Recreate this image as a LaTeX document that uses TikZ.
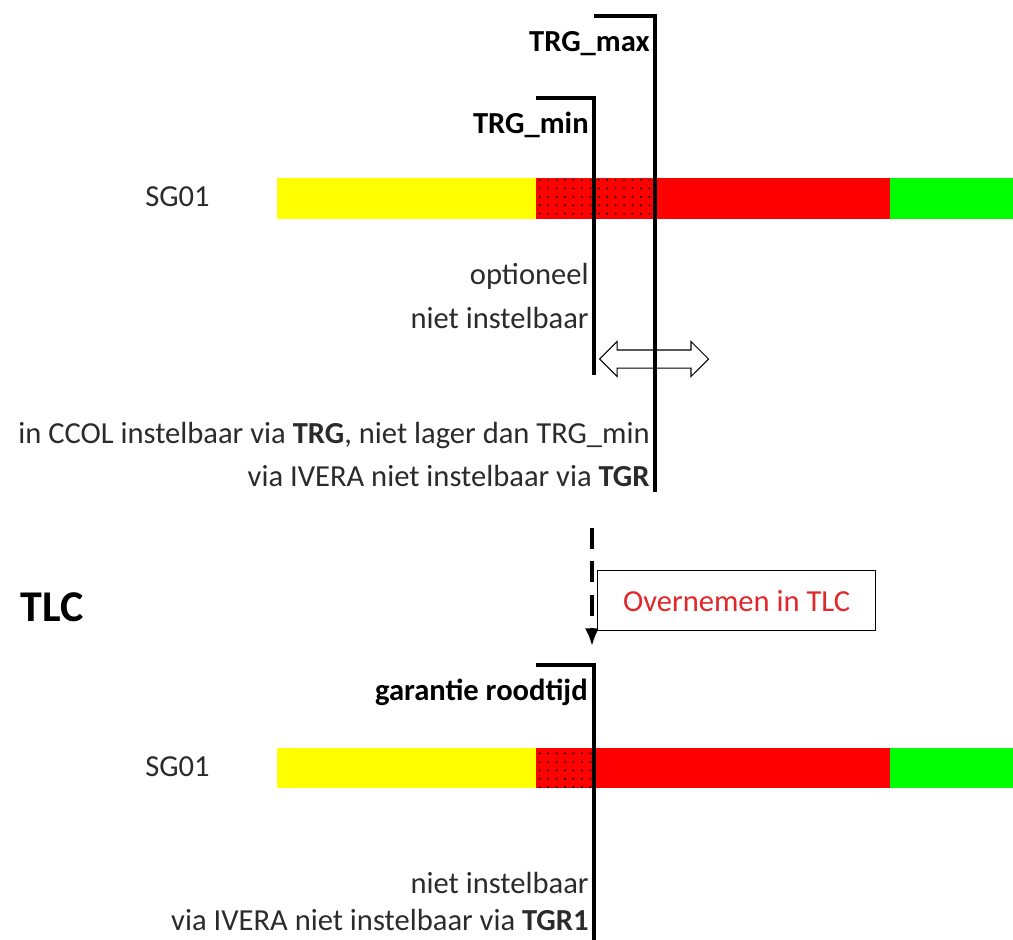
\documentclass[tikz,border=0pt]{standalone}
\usepackage{fontspec}
\setmainfont{Carlito}
\usetikzlibrary{patterns.meta,shapes.arrows,arrows.meta}
\definecolor{sigyellow}{HTML}{FFFF00}
\definecolor{sigred}{HTML}{FF0000}
\definecolor{siggreen}{HTML}{00FF00}
\definecolor{txtgray}{HTML}{2B2B2B}
\definecolor{notered}{HTML}{E2262A}
\tikzset{
	txt/.style     = {anchor=mid east, inner sep=0pt, text=txtgray, font=\fontsize{17.4}{20}\selectfont},
	head/.style    = {anchor=mid east, inner sep=0pt, text=black, font=\fontsize{17.4}{20}\selectfont\bfseries},
	marker/.style  = {line width=2.3pt},
	dotted red/.style = {fill=sigred, postaction={pattern={Dots[distance=4.8pt, radius=0.6pt]}, pattern color=black}},
	note/.style    = {draw, line width=0.8pt, fill=white, rectangle, minimum width=5.56cm, minimum height=1.2cm, text=notered, font=\fontsize{17.4}{20}\selectfont},
	rangearrow/.style = {draw, line width=0.6pt, fill=white, double arrow, double arrow head extend=0.17cm, minimum height=2.18cm, inner sep=0.17cm},
}

\begin{document}
\begin{tikzpicture}[x=0.02cm, y=-0.02cm, >={Latex[length=10pt, width=8pt]}]
		\useasboundingbox (0,0) rectangle (1013,939);

		% Draw the signal bar of the controller (CCOL / IVERA)
		\fill[sigyellow] (277,178) rectangle (536,219);
		\path[dotted red] (536,178) rectangle (652,219);
		\fill[sigred]    (652,178) rectangle (890,219);
		\fill[siggreen]  (890,178) rectangle (1013,219);
		\node[txt, anchor=mid west] (sg1) at (145,202) {SG01};

		% Draw the markers TRG_min and TRG_max
		\node[rangearrow] (range) at (654,359) {};
		\coordinate (minstart) at (536,98);
		\coordinate (minend)   at (594,375);
		\coordinate (maxstart) at (594,16);
		\coordinate (maxend)   at (655,492);
		\draw[marker] (minstart) -| (minend);
		\draw[marker] (maxstart) -| (maxend);
		\node[head] (trgmax) at (650,47)  {TRG\_max};
		\node[head] (trgmin) at (589,129) {TRG\_min};

		\node[txt] (optional) at (589,280) {optioneel};
		\node[txt] (fixed)    at (589,324) {niet instelbaar};

		\node[txt] (ccol)  at (650,439) {in CCOL instelbaar via \textbf{TRG}, niet lager dan TRG\_min};
		\node[txt] (ivera) at (650,482) {via IVERA niet instelbaar via \textbf{TGR}};

		% Take over in the TLC
		\coordinate (takefrom) at (592,528);
		\coordinate (taketo)   at (592,646);
		\draw[->, line width=1.8pt, dash pattern=on 12 off 7] (takefrom) -- (taketo);
		\node[note, anchor=north west] (takeover) at (597,570) {Overnemen in TLC};
		\node[font=\fontsize{25}{29}\selectfont\bfseries, inner sep=0pt] (tlc) at (52,607) {TLC};

		% Draw the signal bar of the TLC
		\fill[sigyellow] (277,748) rectangle (536,788);
		\path[dotted red] (536,748) rectangle (594,788);
		\fill[sigred]    (594,748) rectangle (890,788);
		\fill[siggreen]  (890,748) rectangle (1013,788);
		\node[txt, anchor=mid west] (sg2) at (145,772) {SG01};

		\coordinate (garstart) at (536,665);
		\coordinate (garend)   at (594,945);
		\draw[marker] (garstart) -| (garend);
		\node[head] (garantie) at (588,696) {garantie roodtijd};

		\node[txt] (tlcfixed) at (589,889) {niet instelbaar};
		\node[txt] (tlcivera) at (589,926) {via IVERA niet instelbaar via \textbf{TGR1}};
	\end{tikzpicture}
\end{document}
